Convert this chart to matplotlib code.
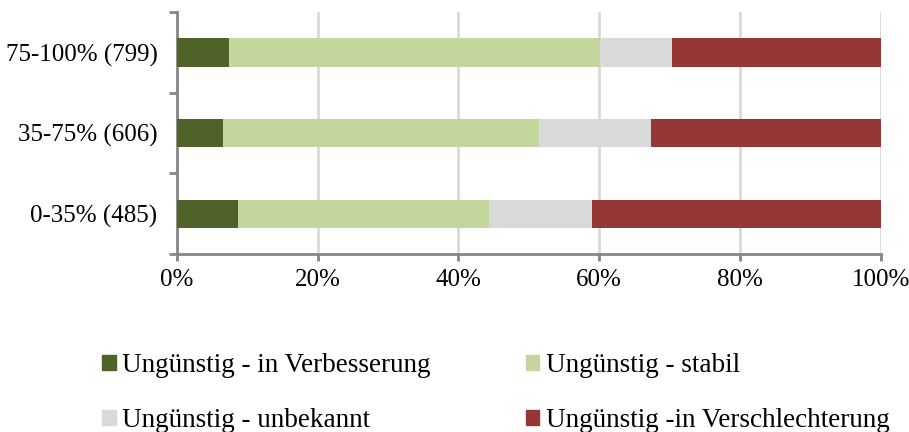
import numpy as np
import matplotlib.pyplot as plt
from matplotlib.patches import Rectangle

categories = ['0-35% (485)', '35-75% (606)', '75-100% (799)']
verbesserung = [8.7, 6.5, 7.4]
stabil = [35.7, 44.9, 52.7]
unbekannt = [14.6, 16.0, 10.2]
verschlechterung = [41.0, 32.6, 29.7]

series = [
    ('Ungünstig - in Verbesserung', verbesserung, '#4F6228'),
    ('Ungünstig - stabil', stabil, '#C3D69B'),
    ('Ungünstig - unbekannt', unbekannt, '#D9D9D9'),
    ('Ungünstig -in Verschlechterung', verschlechterung, '#953735'),
]

plt.rcParams['font.family'] = ['Liberation Serif', 'DejaVu Serif']

fig = plt.figure(figsize=(9.09, 4.32), dpi=100)
ax = fig.add_axes([0.1947, 0.412, 0.774, 0.56])

y = np.arange(len(categories))
left = np.zeros(len(categories))
for name, vals, col in series:
    ax.barh(y, vals, left=left, height=0.35, color=col, zorder=3)
    left += np.array(vals)

ax.set_xlim(0, 100)
ax.set_ylim(-0.5, len(categories) - 0.5)
ax.set_xticks(np.arange(0, 101, 20))
ax.set_xticklabels([f'{v}%' for v in range(0, 101, 20)], fontsize=18)
ax.set_yticks(y)
ax.set_yticklabels(categories, fontsize=18)
ax.set_yticks(np.arange(-0.5, len(categories), 1), minor=True)
ax.tick_params(axis='y', which='major', length=0, pad=14)
ax.tick_params(axis='y', which='minor', length=6, width=2, color='#868686')
ax.tick_params(axis='x', length=5, width=2, color='#868686', pad=6)
ax.grid(axis='x', color='#D9D9D9', linewidth=2, zorder=0)

for s in ['top', 'right']:
    ax.spines[s].set_visible(False)
for s in ['left', 'bottom']:
    ax.spines[s].set_color('#868686')
    ax.spines[s].set_linewidth(2)

# legend fills column-wise, so order handles to get Excel's row layout
order = [0, 2, 1, 3]
handles = [Rectangle((0, 0), 1, 1, color=series[i][2]) for i in order]
labels = [series[i][0] for i in order]
fig.legend(handles, labels, loc='center', bbox_to_anchor=(0.5455, 0.09), ncol=2,
           frameon=False, fontsize=19.5, handlelength=0.5, handleheight=0.5,
           handletextpad=0.25, columnspacing=3.5, labelspacing=1.1)

fig.savefig('out.png', dpi=100)
